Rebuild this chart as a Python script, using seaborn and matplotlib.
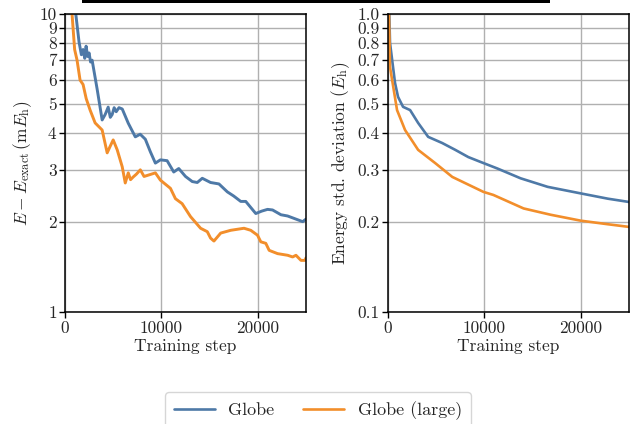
import matplotlib
matplotlib.use("Agg")
import matplotlib.pyplot as plt
import seaborn as sns
import pandas as pd
from matplotlib.patches import Rectangle

# ---- data ----
left_globe_steps = [500, 1042, 1458, 1700, 1875, 2050, 2188, 2350, 2500, 2650, 2813, 3333, 3854, 4167,
                    4479, 4700, 4896, 5100, 5313, 5600, 5938, 6563, 7292, 7800, 8333, 8854, 9375, 9896,
                    10590, 11280, 11800, 12500, 13200, 13720, 14240, 15100, 15970, 16840, 17500, 18230,
                    18750, 19790, 20400, 21010, 21530, 22400, 23090, 23780, 24660, 25000]
left_globe_vals = [25, 10.5, 8.05, 7.3, 7.6, 7.1, 7.8, 7.2, 7.4, 6.9, 7.0, 5.6, 4.41, 4.6,
                   4.87, 4.5, 4.6, 4.85, 4.7, 4.85, 4.8, 4.3, 3.87, 3.95, 3.8, 3.45, 3.16, 3.24,
                   3.22, 2.95, 3.03, 2.85, 2.74, 2.72, 2.81, 2.72, 2.69, 2.53, 2.45, 2.35,
                   2.35, 2.14, 2.18, 2.21, 2.20, 2.12, 2.10, 2.06, 2.01, 2.05]

left_large_steps = [300, 729, 1000, 1250, 1563, 1875, 2200, 2604, 3125, 3854, 4375, 4688, 5000, 5417,
                    5938, 6250, 6563, 6800, 7083, 7400, 7813, 8200, 8646, 9375, 9896, 10938, 11458,
                    12150, 13020, 14063, 14760, 15100, 15450, 16150, 17190, 18570, 19270, 19970, 20310,
                    20830, 21180, 22050, 23100, 23610, 23960, 24480, 24900, 25000]
left_large_vals = [25, 10, 7.6, 7.0, 6.0, 5.8, 5.2, 4.76, 4.31, 4.08, 3.42, 3.6, 3.78, 3.5,
                   3.07, 2.71, 2.93, 2.78, 2.84, 2.9, 3.0, 2.85, 2.88, 2.93, 2.77, 2.60, 2.40,
                   2.31, 2.09, 1.91, 1.86, 1.77, 1.73, 1.84, 1.88, 1.91, 1.88, 1.81, 1.72,
                   1.70, 1.61, 1.57, 1.55, 1.53, 1.55, 1.49, 1.49, 1.52]

right_globe_steps = [0, 208, 729, 1042, 1562, 2292, 3125, 4167, 5625, 6979, 8333, 9583, 11354,
                     13750, 16563, 20000, 22813, 25000]
right_globe_vals = [1.5, 0.80, 0.587, 0.527, 0.488, 0.476, 0.431, 0.387, 0.369, 0.350, 0.331, 0.319,
                    0.303, 0.281, 0.263, 0.250, 0.240, 0.234]

right_large_steps = [0, 208, 938, 1771, 3125, 4896, 6667, 9896, 10938, 14063, 16875, 20000, 22813, 25000]
right_large_vals = [1.5, 0.664, 0.476, 0.408, 0.350, 0.316, 0.284, 0.253, 0.247, 0.2226, 0.212,
                    0.2025, 0.197, 0.193]

series_names = ["Globe", "Globe (large)"]
colors = ["#4e79a7", "#f28e2b"]

left_ticks = [1, 2, 3, 4, 5, 6, 7, 8, 9, 10]
left_ticklabels = ["1", "2", "3", "4", "5", "6", "7", "8", "9", "10"]
right_ticks = [0.1, 0.2, 0.3, 0.4, 0.5, 0.6, 0.7, 0.8, 0.9, 1.0]
right_ticklabels = ["0.1", "0.2", "0.3", "0.4", "0.5", "0.6", "0.7", "0.8", "0.9", "1.0"]
x_ticks = [0, 10000, 20000]

# ---- tables ----
df_left = pd.concat([
    pd.DataFrame({"step": left_globe_steps, "value": left_globe_vals, "model": series_names[0]}),
    pd.DataFrame({"step": left_large_steps, "value": left_large_vals, "model": series_names[1]}),
])
df_right = pd.concat([
    pd.DataFrame({"step": right_globe_steps, "value": right_globe_vals, "model": series_names[0]}),
    pd.DataFrame({"step": right_large_steps, "value": right_large_vals, "model": series_names[1]}),
])

sns.set_theme(style="ticks")
plt.rcParams["font.family"] = ["cmr10", "DejaVu Serif"]
plt.rcParams["mathtext.fontset"] = "cm"
plt.rcParams["axes.formatter.use_mathtext"] = True
plt.rcParams["axes.unicode_minus"] = False

fs = 12.5
fig = plt.figure(figsize=(6.31, 4.24), dpi=100)
W, H = 631, 424
ax1 = fig.add_axes([65 / W, 1 - 312 / H, 241 / W, 298 / H])
ax2 = fig.add_axes([388 / W, 1 - 312 / H, 241 / W, 298 / H])

palette = dict(zip(series_names, colors))
sns.lineplot(data=df_left, x="step", y="value", hue="model", palette=palette, ax=ax1,
             linewidth=2.1, legend=False, sort=False)
sns.lineplot(data=df_right, x="step", y="value", hue="model", palette=palette, ax=ax2,
             linewidth=1.9, legend=True, sort=False)

for ax, ticks, labels, lo, hi in [(ax1, left_ticks, left_ticklabels, 1, 10),
                                  (ax2, right_ticks, right_ticklabels, 0.1, 1.0)]:
    ax.set_yscale("log")
    ax.set_ylim(lo, hi)
    ax.set_xlim(0, 25000)
    ax.set_yticks(ticks)
    ax.set_yticklabels(labels)
    ax.yaxis.set_minor_locator(matplotlib.ticker.NullLocator())
    ax.set_xticks(x_ticks)
    ax.set_xticklabels([str(t) for t in x_ticks])
    ax.grid(True, color="#b0b0b0", linewidth=1.0)
    ax.set_axisbelow(True)
    for s in ax.spines.values():
        s.set_color("black")
        s.set_linewidth(1.1)
    ax.tick_params(axis="both", labelsize=fs, length=4, width=1.0, color="black", direction="out",
                   pad=2)
    ax.set_xlabel("Training step", fontsize=fs, labelpad=2)

ax1.set_ylabel(r"$E - E_\mathrm{exact}\,(\mathrm{m}E_\mathrm{h})$", fontsize=fs, labelpad=4)
ax2.set_ylabel(r"Energy std. deviation $(E_\mathrm{h})$", fontsize=fs, labelpad=4)

handles, lbls = ax2.get_legend_handles_labels()
ax2.get_legend().remove()
leg = fig.legend(handles, lbls, loc="upper center", bbox_to_anchor=(318 / W, 1 - 392 / H), ncol=2,
                 fontsize=13, frameon=True, fancybox=True, handlelength=2.25, handletextpad=0.75,
                 columnspacing=1.6, borderpad=0.5, borderaxespad=0)
leg.get_frame().set_edgecolor("#cccccc")
for line in leg.get_lines():
    line.set_linewidth(1.9)

fig.add_artist(Rectangle((82 / W, 1 - 2.5 / H), 468 / W, 3 / H, transform=fig.transFigure,
                         facecolor="black", edgecolor="none"))

fig.savefig("out.png", dpi=100)
